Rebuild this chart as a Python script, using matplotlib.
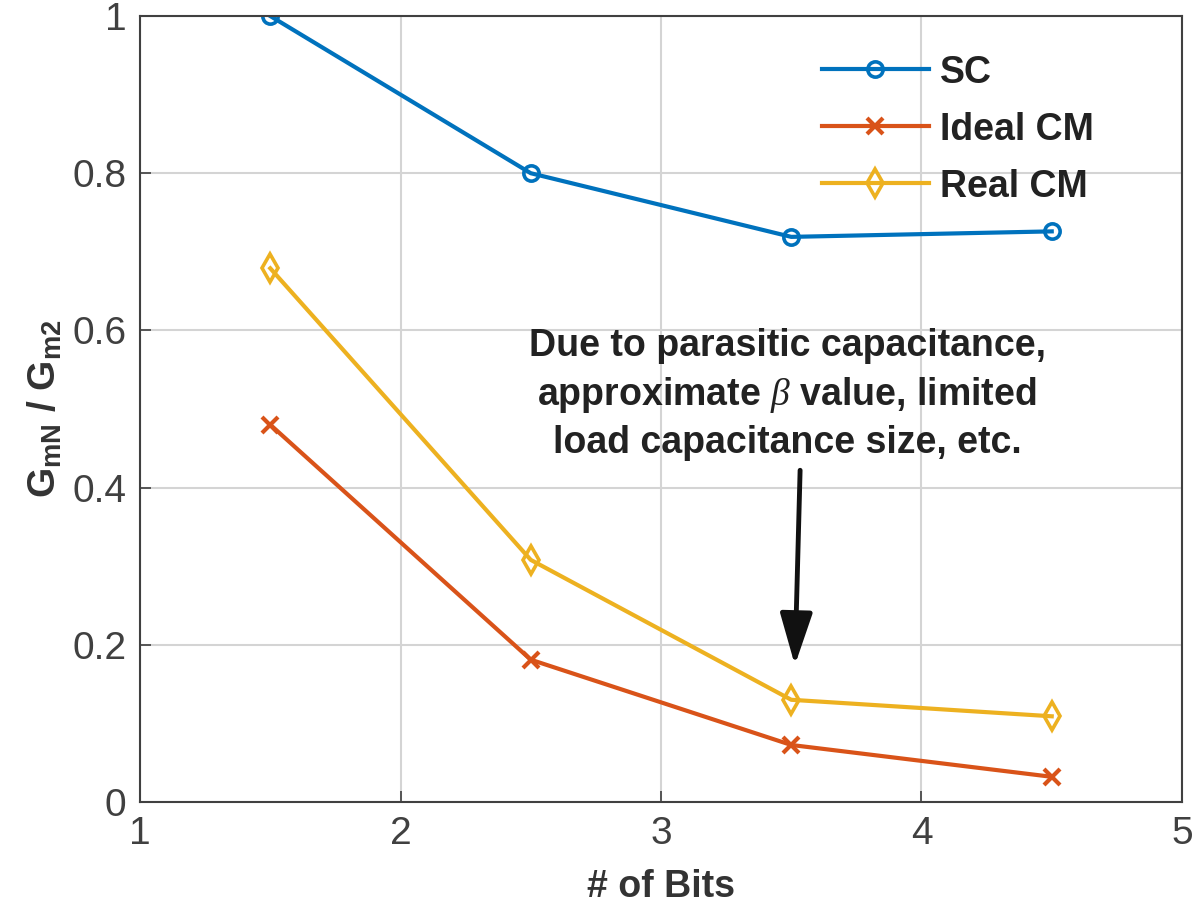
import matplotlib
matplotlib.use("Agg")
import matplotlib.pyplot as plt

bits = [1.5, 2.5, 3.5, 4.5]
sc = [1.0, 0.800, 0.719, 0.726]
ideal_cm = [0.480, 0.181, 0.0725, 0.032]
real_cm = [0.679, 0.308, 0.130, 0.109]

plt.rcParams["font.family"] = ["Liberation Sans", "DejaVu Sans"]
plt.rcParams["mathtext.fontset"] = "custom"
plt.rcParams["mathtext.rm"] = "Liberation Sans"
plt.rcParams["mathtext.bf"] = "Liberation Sans:bold"
plt.rcParams["mathtext.it"] = "Liberation Serif:italic"

fig = plt.figure(figsize=(11.99, 9.11), dpi=100)
ax = fig.add_axes([0.1168, 0.1197, 0.869, 0.8627])

ax.plot(bits, sc, color="#0072BD", lw=3, marker="o", ms=11, mfc="none", mew=2.6, label="SC")
ax.plot(bits, ideal_cm, color="#D95319", lw=3, marker="x", ms=12, mew=3, label="Ideal CM")
ax.plot(bits, real_cm, color="#EDB120", lw=3, marker="d", ms=14, mfc="none", mew=2.6, label="Real CM")

ax.set_xlim(1, 5)
ax.set_ylim(0, 1)
ax.set_xticks([1, 2, 3, 4, 5])
ax.set_yticks([0, 0.2, 0.4, 0.6, 0.8, 1])
ax.set_yticklabels(["0", "0.2", "0.4", "0.6", "0.8", "1"])
for lab in ax.get_xticklabels() + ax.get_yticklabels():
    lab.set_fontsize(28)
    lab.set_color("#404040")
ax.tick_params(direction="in", length=8, width=1.2, colors="#404040", pad=10)
ax.grid(True, color="#d4d4d4", lw=1.5)
ax.set_axisbelow(True)
for s in ax.spines.values():
    s.set_color("#404040")
    s.set_linewidth(1.5)

ax.set_xlabel("# of Bits", fontsize=27, fontweight="bold", color="#333333", labelpad=12)
ax.set_ylabel(r"$\mathbf{G_{mN}}$ / $\mathbf{G_{m2}}$", fontsize=28, fontweight="bold", color="#333333", labelpad=6)

ax.text(3.484, 0.518, "Due to parasitic capacitance,\napproximate $\\beta$ value, limited\nload capacitance size, etc.",
        ha="center", va="center", fontsize=27, fontweight="bold", color="#222222", linespacing=1.36)
ax.annotate("", xy=(3.514, 0.174), xytext=(3.534, 0.422),
            arrowprops=dict(arrowstyle="-|>,head_length=3.2,head_width=1.0", color="#111111", lw=3.5,
                            shrinkA=0, shrinkB=0))

leg = ax.legend(loc="upper left", bbox_to_anchor=(0.64, 0.97), frameon=False, fontsize=27,
                handlelength=2.85, labelspacing=0.56, handletextpad=0.3, borderaxespad=0)
for t in leg.get_texts():
    t.set_fontweight("bold")
    t.set_color("#222222")

fig.savefig("out.png", dpi=100)
